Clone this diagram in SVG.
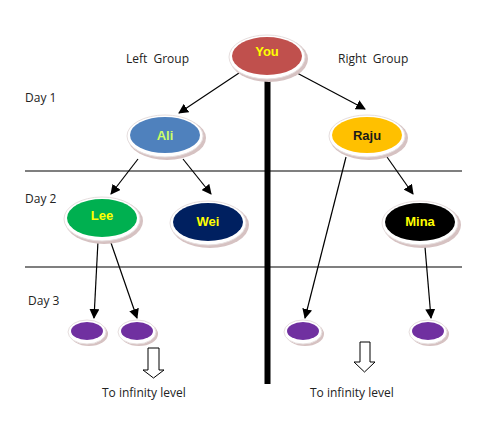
<svg xmlns="http://www.w3.org/2000/svg" width="502" height="426" viewBox="0 0 502 426">
<defs>
<marker id="ah" viewBox="0 0 10 10" refX="9" refY="5" markerWidth="10" markerHeight="10" markerUnits="userSpaceOnUse" orient="auto">
<path d="M0,0 L10,5 L0,10 z" fill="#000"/>
</marker>
<style>
.t{font-family:"Open Sans","Liberation Sans",Arial,sans-serif;font-size:12px;fill:#222}
.n{font-family:"Liberation Sans",Arial,sans-serif;font-size:13px;font-weight:bold;text-anchor:middle}
.sh{fill:#d6c2c2}
.rim{fill:#fff;stroke:#e6dede;stroke-width:1}
.grid{stroke:#7f7f7f;stroke-width:2}
.c{stroke:#000;stroke-width:1.2;fill:none;marker-end:url(#ah)}
.blk{fill:#fff;stroke:#000;stroke-width:1}
</style>
</defs>
<rect width="502" height="426" fill="#fff"/>
<line class="grid" x1="25" y1="171" x2="462" y2="171"/>
<line class="grid" x1="25" y1="267" x2="462" y2="267"/>
<rect x="264.5" y="78" width="6" height="306" fill="#000"/>
<text class="t" x="126" y="63" word-spacing="3">Left Group</text>
<text class="t" x="338" y="63" word-spacing="3">Right Group</text>
<text class="t" x="25" y="102">Day 1</text>
<text class="t" x="25" y="203">Day 2</text>
<text class="t" x="28" y="305">Day 3</text>
<g id="connectors">
<line class="c" x1="239" y1="73" x2="179" y2="113"/>
<line class="c" x1="297" y1="73" x2="365" y2="109"/>
<line class="c" x1="138" y1="159" x2="111" y2="194"/>
<line class="c" x1="183" y1="159" x2="211" y2="194"/>
<line class="c" x1="387" y1="157" x2="413" y2="194"/>
<line class="c" x1="346" y1="157" x2="305" y2="318"/>
<line class="c" x1="98" y1="241" x2="94" y2="318"/>
<line class="c" x1="110" y1="240" x2="137" y2="318"/>
<line class="c" x1="425" y1="247" x2="431" y2="318"/>
</g>
<g id="you">
<ellipse class="sh" cx="269" cy="59" rx="39" ry="23"/>
<ellipse class="rim" cx="267" cy="57" rx="38" ry="22"/>
<ellipse cx="267" cy="56" rx="35" ry="19" fill="#c0504d"/>
<text class="n" x="267" y="56" fill="#ffff00">You</text>
</g>
<g id="ali">
<ellipse class="sh" cx="167" cy="138" rx="39" ry="22"/>
<ellipse class="rim" cx="165" cy="136" rx="38" ry="21"/>
<ellipse cx="165" cy="135" rx="35" ry="18" fill="#4f81bd"/>
<text class="n" x="165" y="140" fill="#ccff66">Ali</text>
</g>
<g id="raju">
<ellipse class="sh" cx="369" cy="138" rx="39" ry="22"/>
<ellipse class="rim" cx="367" cy="136" rx="38" ry="21"/>
<ellipse cx="367" cy="135" rx="35" ry="18" fill="#ffc000"/>
<text class="n" x="367" y="140" fill="#1a1a1a">Raju</text>
</g>
<g id="lee">
<ellipse class="sh" cx="104" cy="221" rx="39" ry="23"/>
<ellipse class="rim" cx="102" cy="219" rx="38" ry="22"/>
<ellipse cx="102" cy="218" rx="35" ry="19" fill="#00b050"/>
<text class="n" x="102" y="220" fill="#ffff00">Lee</text>
</g>
<g id="wei">
<ellipse class="sh" cx="210" cy="225" rx="39" ry="23"/>
<ellipse class="rim" cx="208" cy="223" rx="38" ry="22"/>
<ellipse cx="208" cy="222" rx="35" ry="19" fill="#002060"/>
<text class="n" x="208" y="226" fill="#ffff00">Wei</text>
</g>
<g id="mina">
<ellipse class="sh" cx="422" cy="225" rx="39" ry="23"/>
<ellipse class="rim" cx="420" cy="223" rx="38" ry="22"/>
<ellipse cx="420" cy="222" rx="35" ry="19" fill="#000"/>
<text class="n" x="420" y="226" fill="#ffff00">Mina</text>
</g>
<g id="d3a">
<ellipse class="sh" cx="89" cy="334" rx="19" ry="12"/>
<ellipse class="rim" cx="87" cy="332" rx="19" ry="12"/>
<ellipse cx="87" cy="331" rx="16" ry="9" fill="#7030a0"/>
</g>
<g id="d3b">
<ellipse class="sh" cx="139" cy="334" rx="19" ry="12"/>
<ellipse class="rim" cx="137" cy="332" rx="19" ry="12"/>
<ellipse cx="137" cy="331" rx="16" ry="9" fill="#7030a0"/>
</g>
<g id="d3c">
<ellipse class="sh" cx="305" cy="334" rx="19" ry="12"/>
<ellipse class="rim" cx="303" cy="332" rx="19" ry="12"/>
<ellipse cx="303" cy="331" rx="16" ry="9" fill="#7030a0"/>
</g>
<g id="d3d">
<ellipse class="sh" cx="430" cy="334" rx="19" ry="12"/>
<ellipse class="rim" cx="428" cy="332" rx="19" ry="12"/>
<ellipse cx="428" cy="331" rx="16" ry="9" fill="#7030a0"/>
</g>
<g id="inf-left">
<path class="blk" d="M148,348 H159 V370 H164 L153.5,378 L143,370 H148 Z"/>
<text class="t" x="102" y="397">To infinity level</text>
</g>
<g id="inf-right">
<path class="blk" d="M360,342 H370 V362 H375 L364.5,372 L354,362 H360 Z"/>
<text class="t" x="310" y="397">To infinity level</text>
</g>
</svg>
